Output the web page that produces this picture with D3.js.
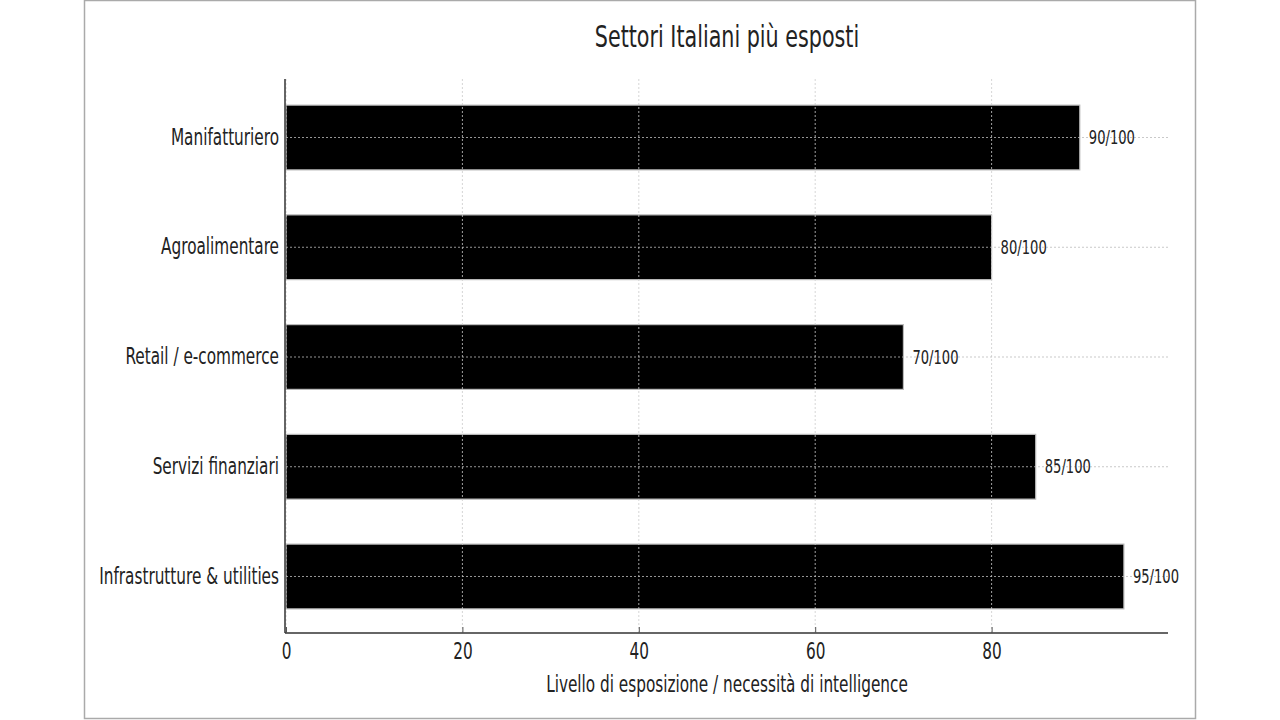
<!DOCTYPE html>
<html><head><meta charset="utf-8">
<script src="https://cdn.jsdelivr.net/npm/d3@7"></script>
<style>
body{margin:0;background:#fff;}
text{font-family:"DejaVu Sans Condensed","DejaVu Sans",sans-serif;fill:#222;
  transform-box:fill-box;transform-origin:center;transform:scaleY(1.3);}
</style>
</head><body>
<svg id="c" width="1280" height="720"></svg>
<script>
const categories = ["Manifatturiero","Agroalimentare","Retail / e-commerce","Servizi finanziari","Infrastrutture & utilities"];
const values = [90, 80, 70, 85, 95];
const valueLabels = ["90/100","80/100","70/100","85/100","95/100"];
const xTicks = [0, 20, 40, 60, 80];
const title = "Settori Italiani più esposti";
const xLabel = "Livello di esposizione / necessità di intelligence";

const svg = d3.select("#c");
svg.append("rect").attr("x",84.5).attr("y",0.5).attr("width",1111).attr("height",718)
  .attr("fill","#fff").attr("stroke","#aaa").attr("stroke-width",1.5);

const L=286, R=1168, T=79, B=633;
const x = d3.scaleLinear().domain([0,100]).range([L,R]);
const y = d3.scaleBand().domain(categories).range([T+1,B+1]).paddingInner(0.41).paddingOuter(0.229);

const g = svg.append("g");
// bars
g.selectAll("rect.bar").data(categories).join("rect").attr("class","bar")
  .attr("x", x(0)).attr("y", d=>y(d))
  .attr("width", (d,i)=>x(values[i])-x(0)).attr("height", y.bandwidth())
  .attr("fill","#000").attr("stroke","#bbb").attr("stroke-width",1.2);
// grid
g.selectAll("line.vg").data(xTicks).join("line").attr("class","vg")
  .attr("x1",d=>x(d)).attr("x2",d=>x(d)).attr("y1",T).attr("y2",B)
  .attr("stroke","#ccc").attr("stroke-width",0.8).attr("stroke-dasharray","2,2");
g.selectAll("line.hg").data(categories).join("line").attr("class","hg")
  .attr("x1",L).attr("x2",R).attr("y1",d=>y(d)+y.bandwidth()/2).attr("y2",d=>y(d)+y.bandwidth()/2)
  .attr("stroke","#bbb").attr("stroke-width",0.8).attr("stroke-dasharray","2,2");
// value labels
g.selectAll("text.vl").data(categories).join("text").attr("class","vl")
  .attr("x",(d,i)=>x(values[i])+9).attr("y",d=>y(d)+y.bandwidth()/2)
  .attr("dy","0.35em").attr("font-size",14.6).text((d,i)=>valueLabels[i]);

// x axis
const xa = svg.append("g").attr("transform",`translate(0,${B})`)
  .call(d3.axisBottom(x).tickValues(xTicks).tickSize(-6).tickPadding(12).tickSizeOuter(0));
xa.select(".domain").attr("stroke","#333").attr("stroke-width",1.5).attr("d",`M${L-1},0H${R}`);
xa.selectAll(".tick line").attr("stroke","#555");
xa.selectAll(".tick text").attr("font-size",17).attr("fill","#222");
// y axis
const ya = svg.append("g").attr("transform",`translate(${L-1},0)`)
  .call(d3.axisLeft(y).tickSize(0).tickPadding(6));
ya.select(".domain").attr("stroke","#333").attr("stroke-width",1.5).attr("d",`M0,${T}V${B}`);
ya.selectAll(".tick text").attr("font-size",17).attr("fill","#222");

svg.append("text").attr("x",(L+R)/2).attr("y",45).attr("text-anchor","middle")
  .attr("font-size",23).text(title);
svg.append("text").attr("x",(L+R)/2).attr("y",690).attr("text-anchor","middle")
  .attr("font-size",17).text(xLabel);
</script>
</body></html>
